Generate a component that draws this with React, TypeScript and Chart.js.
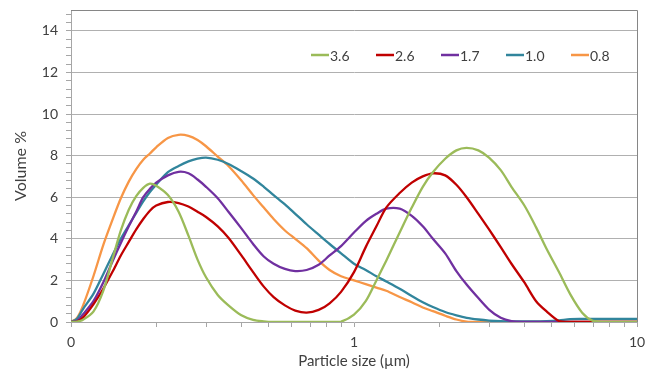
import React, { useEffect, useRef } from "react";
import { Chart, registerables } from "chart.js";

Chart.register(...registerables);

const sizes = [0.1, 0.105, 0.11, 0.12, 0.13, 0.14, 0.15, 0.16, 0.17, 0.18, 0.19, 0.2, 0.22, 0.24, 0.26, 0.28, 0.3, 0.33, 0.36, 0.4, 0.44, 0.48, 0.52, 0.57, 0.62, 0.68, 0.75, 0.82, 0.9, 1.0, 1.1, 1.2, 1.3, 1.45, 1.6, 1.75, 1.9, 2.1, 2.3, 2.5, 2.75, 3.0, 3.3, 3.6, 4.0, 4.4, 4.8, 5.3, 5.8, 6.4, 7.0, 7.7, 8.5, 10];

const series36 = [0, 0.02, 0.1, 0.5, 1.5, 3.0, 4.4, 5.4, 6.05, 6.45, 6.65, 6.55, 6.1, 5.3, 4.15, 3.0, 2.15, 1.3, 0.8, 0.32, 0.1, 0.03, 0, 0, 0, 0, 0, 0, 0.02, 0.35, 1.0, 2.0, 2.95, 4.3, 5.5, 6.5, 7.2, 7.85, 8.25, 8.37, 8.25, 7.9, 7.3, 6.5, 5.6, 4.55, 3.5, 2.4, 1.35, 0.45, 0.05, 0, 0, 0];
const series26 = [0, 0.02, 0.2, 0.85, 1.6, 2.4, 3.2, 3.85, 4.45, 4.95, 5.35, 5.6, 5.77, 5.72, 5.55, 5.3, 5.05, 4.6, 4.05, 3.2, 2.4, 1.7, 1.2, 0.8, 0.55, 0.45, 0.58, 0.9, 1.45, 2.4, 3.6, 4.6, 5.5, 6.2, 6.7, 7.0, 7.15, 7.05, 6.6, 6.0, 5.2, 4.45, 3.6, 2.8, 1.9, 1.0, 0.5, 0.05, 0, 0, 0, 0, 0, 0];
const series17 = [0, 0.05, 0.35, 1.0, 1.9, 2.9, 3.8, 4.6, 5.3, 6.0, 6.4, 6.7, 7.05, 7.22, 7.15, 6.85, 6.5, 5.95, 5.3, 4.5, 3.75, 3.15, 2.8, 2.55, 2.45, 2.5, 2.75, 3.2, 3.65, 4.3, 4.85, 5.2, 5.45, 5.45, 5.1, 4.6, 4.0, 3.3, 2.45, 1.8, 1.15, 0.6, 0.2, 0.04, 0, 0, 0, 0, 0, 0, 0, 0, 0, 0];
const series10 = [0, 0.15, 0.6, 1.35, 2.3, 3.2, 4.0, 4.65, 5.25, 5.8, 6.25, 6.6, 7.2, 7.5, 7.72, 7.85, 7.9, 7.8, 7.6, 7.25, 6.9, 6.5, 6.1, 5.65, 5.2, 4.7, 4.2, 3.75, 3.3, 2.8, 2.5, 2.2, 1.95, 1.6, 1.25, 0.95, 0.72, 0.48, 0.32, 0.2, 0.12, 0.07, 0.04, 0.03, 0.03, 0.03, 0.04, 0.08, 0.14, 0.15, 0.15, 0.15, 0.15, 0.15];
const series08 = [0, 0.2, 0.75, 2.2, 3.7, 4.9, 5.95, 6.75, 7.35, 7.8, 8.1, 8.4, 8.85, 9.0, 8.95, 8.75, 8.45, 7.95, 7.5, 6.8, 6.1, 5.5, 4.95, 4.4, 4.0, 3.55, 2.95, 2.5, 2.2, 2.0, 1.82, 1.65, 1.5, 1.2, 0.95, 0.7, 0.52, 0.3, 0.12, 0.02, 0, 0, 0, 0, 0, 0, 0, 0, 0, 0, 0, 0, 0, 0];

const seriesLabels = ["3.6", "2.6", "1.7", "1.0", "0.8"];
const seriesValues = [series36, series26, series17, series10, series08];
const seriesColors = ["#9BBB59", "#C00000", "#7030A0", "#31859C", "#F79646"];

const xMajorTicks = [0.1, 1, 10];
const xMinorTicks = [0.2, 0.3, 0.4, 0.5, 0.6, 0.7, 0.8, 0.9, 2, 3, 4, 5, 6, 7, 8, 9];
const yMin = 0;
const yMax = 15;
const yMinorStep = 0.4;
const yLabelStep = 2;

const FONT = "Lato, 'Open Sans', 'Liberation Sans', sans-serif";
const TEXT = "#404040";

const framePlugin = {
  id: "frame",
  afterDatasetsDraw(chart: any) {
    const { ctx, chartArea } = chart;
    ctx.save();
    ctx.strokeStyle = "#868686";
    ctx.lineWidth = 1;
    ctx.beginPath();
    ctx.moveTo(chartArea.left, chartArea.top + 0.5);
    ctx.lineTo(chartArea.right + 0.5, chartArea.top + 0.5);
    ctx.lineTo(chartArea.right + 0.5, chartArea.bottom);
    ctx.stroke();
    ctx.restore();
  },
};

const legendPlugin = {
  id: "innerLegend",
  afterDraw(chart: any) {
    const { ctx, chartArea } = chart;
    const ds = chart.data.datasets;
    const itemW = 65;
    const y = chartArea.top + 45;
    let x = chartArea.right - 66 - itemW * (ds.length - 1);
    ctx.save();
    ctx.font = `14px ${FONT}`;
    ctx.textBaseline = "middle";
    ctx.textAlign = "left";
    for (const d of ds) {
      ctx.strokeStyle = d.borderColor;
      ctx.lineWidth = 2.5;
      ctx.beginPath();
      ctx.moveTo(x, y);
      ctx.lineTo(x + 18, y);
      ctx.stroke();
      ctx.fillStyle = TEXT;
      ctx.fillText(d.label, x + 19, y + 1);
      x += itemW;
    }
    ctx.restore();
  },
};

export default function App() {
  const ref = useRef<HTMLCanvasElement>(null);
  useEffect(() => {
    if (!ref.current) return;
    const chart = new Chart(ref.current, {
      type: "line",
      data: {
        datasets: seriesValues.map((vals, i) => ({
          label: seriesLabels[i],
          data: sizes.map((s, j) => ({ x: s, y: vals[j] })),
          borderColor: seriesColors[i],
          backgroundColor: seriesColors[i],
          borderWidth: 2.3,
          pointRadius: 0,
          tension: 0.3,
          fill: false,
        })),
      },
      options: {
        animation: false,
        responsive: false,
        maintainAspectRatio: false,
        layout: { padding: { top: 10, right: 9, left: 0, bottom: 0 } },
        plugins: { legend: { display: false }, tooltip: { enabled: false } },
        scales: {
          x: {
            type: "logarithmic",
            min: 0.1,
            max: 10,
            afterBuildTicks: (scale: any) => {
              const all = [...xMajorTicks, ...xMinorTicks].sort((a, b) => a - b);
              scale.ticks = all.map((v) => ({ value: v, major: xMajorTicks.includes(v) }));
            },
            afterFit: (scale: any) => {
              scale.height = 47;
              scale.paddingLeft = 0;
              scale.paddingRight = 0;
            },
            grid: {
              display: true,
              drawOnChartArea: false,
              drawTicks: true,
              tickLength: 5,
              tickColor: "#a6a6a6",
              color: "#a6a6a6",
            },
            border: { display: true, color: "#a6a6a6", width: 1 },
            ticks: {
              autoSkip: false,
              maxRotation: 0,
              padding: 7,
              color: TEXT,
              font: { family: FONT, size: 14 },
              callback: (v: any) => {
                const n = Number(v);
                if (Math.abs(n - 0.1) < 1e-9) return "0";
                if (Math.abs(n - 1) < 1e-9) return "1";
                if (Math.abs(n - 10) < 1e-9) return "10";
                return "";
              },
            },
            title: {
              display: true,
              text: "Particle size (µm)",
              color: TEXT,
              font: { family: FONT, size: 15, lineHeight: 1 },
              padding: { top: 0, bottom: 0 },
            },
          },
          y: {
            type: "linear",
            min: yMin,
            max: yMax,
            afterBuildTicks: (scale: any) => {
              const t: any[] = [];
              const n = Math.floor((yMax - yMin) / yMinorStep + 1e-9);
              for (let i = 0; i <= n; i++) {
                const v = Math.round((yMin + i * yMinorStep) * 10) / 10;
                t.push({ value: v });
              }
              scale.ticks = t;
            },
            afterFit: (scale: any) => {
              scale.width = 71;
              scale.paddingTop = 0;
              scale.paddingBottom = 0;
            },
            grid: {
              display: true,
              drawTicks: true,
              tickLength: 5,
              tickColor: "#a6a6a6",
              lineWidth: 1,
              color: (ctx: any) => {
                const v = ctx.tick ? ctx.tick.value : 0;
                const isLabel = Math.abs(v / yLabelStep - Math.round(v / yLabelStep)) < 1e-6;
                return isLabel && v > 0 ? "#b0b0b0" : "rgba(0,0,0,0)";
              },
            },
            border: { display: true, color: "#a6a6a6", width: 1 },
            ticks: {
              autoSkip: false,
              padding: 8,
              color: TEXT,
              font: { family: FONT, size: 14 },
              callback: (v: any) => {
                const n = Number(v);
                const isLabel = Math.abs(n / yLabelStep - Math.round(n / yLabelStep)) < 1e-6;
                return isLabel ? String(Math.round(n)) : "";
              },
            },
            title: {
              display: true,
              text: "Volume %",
              color: TEXT,
              font: { family: FONT, size: 16, lineHeight: 1.2 },
              padding: { top: 11, bottom: 0 },
            },
          },
        },
      },
      plugins: [framePlugin, legendPlugin],
    });
    return () => chart.destroy();
  }, []);

  return (
    <div style={{ position: "absolute", left: 0, top: 0, width: 646, height: 369, background: "#fff" }}>
      <canvas ref={ref} width={646} height={369} style={{ width: 646, height: 369, display: "block" }} />
    </div>
  );
}
